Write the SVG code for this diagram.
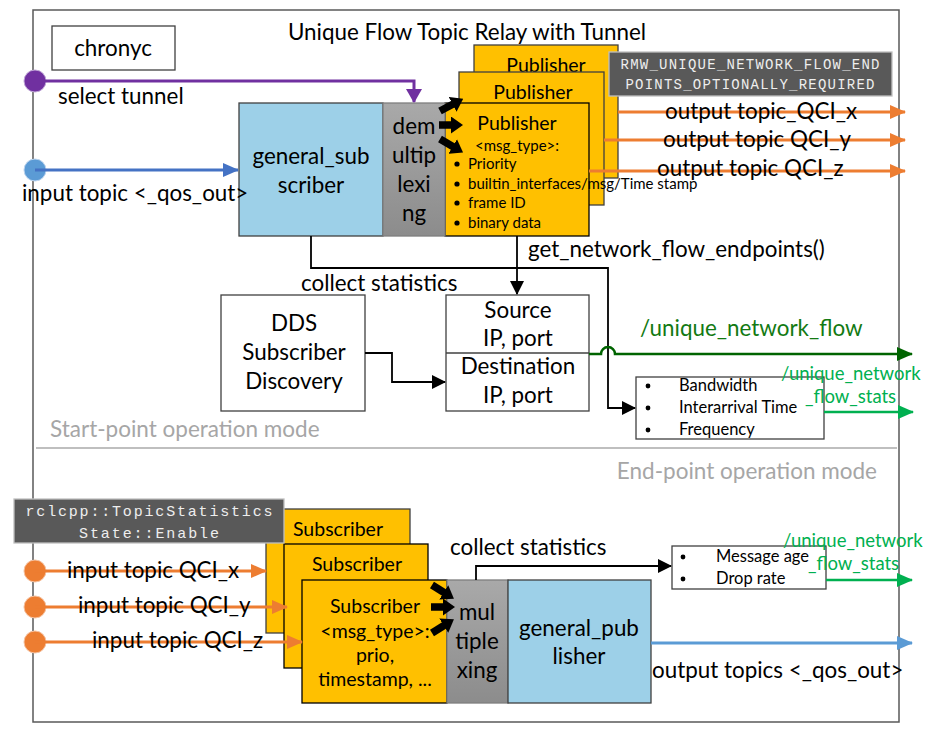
<svg xmlns="http://www.w3.org/2000/svg" width="949" height="734" viewBox="0 0 949 734">
<defs>
<style>
text{font-family:Lato,"Liberation Sans",sans-serif;fill:#000}
.t20{font-size:22.4px}
.t19{font-size:22.5px}
.t18{font-size:19.5px}
.tg{font-size:18.5px}
.t14{font-size:16.5px}
.t13{font-size:15px}
.mid{text-anchor:middle}
.mono{font-family:"Liberation Mono","DejaVu Sans Mono",monospace;fill:#eeeeee}
.box{fill:#fff;stroke:#404040;stroke-width:1.3}
.blue{fill:#9DD0E8;stroke:#404040;stroke-width:1.3}
.gold{fill:#FFC000;stroke:#404040;stroke-width:1.3}
.gold2{fill:#FFC000;stroke:#000;stroke-width:1.3}
.dark{fill:#595959;stroke:#bfbfbf;stroke-width:1.3}
.grey{fill:url(#gg);stroke:#7f7f7f;stroke-width:1.3}
.orange{stroke:#ED7D31;stroke-width:3;fill:none}
.blk{stroke:#000;stroke-width:1.8;fill:none}
.fat{stroke:#000;stroke-width:7.5;fill:none}
.gray-t{fill:#a6a6a6}
.dg{fill:#137A13}
.lg{fill:#00B050}
</style>
<linearGradient id="gg" x1="0" y1="0" x2="0" y2="1">
<stop offset="0" stop-color="#a9a9a9"/>
<stop offset="1" stop-color="#8c8c8c"/>
</linearGradient>
<marker id="aO" markerUnits="userSpaceOnUse" markerWidth="16" markerHeight="14" refX="15" refY="7" orient="auto"><path d="M0,0 L16,7 L0,14 Z" fill="#ED7D31"/></marker>
<marker id="aP" markerUnits="userSpaceOnUse" markerWidth="14" markerHeight="16" refX="13" refY="8" orient="auto"><path d="M0,0 L14,8 L0,16 Z" fill="#7030A0"/></marker>
<marker id="aB" markerUnits="userSpaceOnUse" markerWidth="16" markerHeight="14" refX="15" refY="7" orient="auto"><path d="M0,0 L16,7 L0,14 Z" fill="#4472C4"/></marker>
<marker id="aB2" markerUnits="userSpaceOnUse" markerWidth="16" markerHeight="14" refX="15" refY="7" orient="auto"><path d="M0,0 L16,7 L0,14 Z" fill="#5B9BD5"/></marker>
<marker id="aK" markerUnits="userSpaceOnUse" markerWidth="14" markerHeight="14" refX="13" refY="7" orient="auto"><path d="M0,0 L14,7 L0,14 Z" fill="#000"/></marker>
<marker id="aF" markerUnits="userSpaceOnUse" markerWidth="12" markerHeight="17" refX="5" refY="8.5" orient="auto"><path d="M0,0 L12,8.5 L0,17 Z" fill="#000"/></marker>
<marker id="aDG" markerUnits="userSpaceOnUse" markerWidth="16" markerHeight="14" refX="15" refY="7" orient="auto"><path d="M0,0 L16,7 L0,14 Z" fill="#006400"/></marker>
<marker id="aLG" markerUnits="userSpaceOnUse" markerWidth="16" markerHeight="14" refX="15" refY="7" orient="auto"><path d="M0,0 L16,7 L0,14 Z" fill="#00B050"/></marker>
</defs>

<rect x="33" y="10" width="866" height="712" fill="#fff" stroke="#595959" stroke-width="1.5"/>
<text class="t20 mid" x="467" y="40">Unique Flow Topic Relay with Tunnel</text>

<g id="chronyc"><rect class="box" x="52" y="26" width="123" height="44"/><text class="t20 mid" x="113" y="56">chronyc</text></g>

<g id="publishers">
<rect class="gold" x="474" y="45" width="144" height="133"/>
<text class="t18 mid" x="546" y="72">Publisher</text>
<rect class="gold" x="459" y="72" width="145" height="133"/>
<text class="t18 mid" x="533" y="99">Publisher</text>
<rect class="gold2" x="445" y="103" width="144" height="133"/>
<text class="t18 mid" x="517" y="130">Publisher</text>
<text class="t13 mid" x="517" y="151">&lt;msg_type&gt;:</text>
<g class="t13">
<circle cx="457" cy="164" r="2.6"/><text x="468" y="169">Priority</text>
<circle cx="457" cy="184" r="2.6"/><text x="468" y="189">builtin_interfaces/msg/Time stamp</text>
<circle cx="457" cy="203" r="2.6"/><text x="468" y="208">frame ID</text>
<circle cx="457" cy="223" r="2.6"/><text x="468" y="228">binary data</text>
</g>
</g>

<g id="rmw"><rect class="dark" x="609" y="52" width="283" height="44"/>
<text class="mono" font-size="14" x="750" y="69" text-anchor="middle" textLength="259" lengthAdjust="spacing">RMW_UNIQUE_NETWORK_FLOW_END</text>
<text class="mono" font-size="14" x="750" y="89" text-anchor="middle" textLength="249" lengthAdjust="spacing">POINTS_OPTIONALLY_REQUIRED</text></g>

<g id="general_subscriber"><rect class="blue" x="239" y="103" width="144" height="133"/>
<text class="t20 mid" x="311" y="164">general_sub</text><text class="t20 mid" x="311" y="193">scriber</text></g>

<g id="demultiplexing"><rect class="grey" x="383" y="103" width="62" height="133"/>
<text class="t20 mid" x="414" y="134">dem</text><text class="t20 mid" x="414" y="163">ultip</text><text class="t20 mid" x="414" y="192">lexi</text><text class="t20 mid" x="414" y="221">ng</text></g>

<g id="dds"><rect class="box" x="221" y="295" width="144" height="116"/>
<text class="t20 mid" x="294" y="331">DDS</text><text class="t20 mid" x="294" y="360">Subscriber</text><text class="t20 mid" x="294" y="389">Discovery</text></g>

<g id="endpoints"><rect class="box" x="446" y="295" width="143" height="116"/><line x1="446" y1="353" x2="589" y2="353" stroke="#404040" stroke-width="1.3"/>
<text class="t20 mid" x="518" y="318">Source</text><text class="t20 mid" x="518" y="346">IP, port</text><text class="t20 mid" x="518" y="374">Destination</text><text class="t20 mid" x="518" y="403">IP, port</text></g>

<g id="stats1"><rect class="box" x="636" y="377" width="188" height="62"/>
<g class="t14"><circle cx="648" cy="386" r="2.4"/><text x="679" y="391">Bandwidth</text>
<circle cx="648" cy="408" r="2.4"/><text x="679" y="413">Interarrival Time</text>
<circle cx="648" cy="430" r="2.4"/><text x="679" y="435">Frequency</text></g></g>

<text class="t19 gray-t" x="50" y="437">Start-point operation mode</text>
<line x1="36" y1="448" x2="897" y2="448" stroke="#bfbfbf" stroke-width="2"/>
<text class="t19 gray-t" x="877" y="479" text-anchor="end">End-point operation mode</text>

<g id="subscribers">
<rect class="gold" x="266" y="509" width="144" height="124"/>
<text class="t18 mid" x="338" y="536">Subscriber</text>
<rect class="gold2" x="284" y="544" width="144" height="124"/>
<text class="t18 mid" x="357" y="571">Subscriber</text>
<rect class="gold2" x="302" y="580" width="145" height="123"/>
<text class="t18 mid" x="375" y="613">Subscriber</text>
<text class="t18 mid" x="375" y="638">&lt;msg_type&gt;:</text>
<text class="t18 mid" x="375" y="662">prio,</text>
<text class="t18 mid" x="375" y="686">timestamp, ...</text>
</g>

<g id="rclcpp"><rect class="dark" x="14" y="499" width="270" height="44"/>
<text class="mono" font-size="15" x="149" y="516" text-anchor="middle" textLength="247" lengthAdjust="spacing">rclcpp::TopicStatistics</text>
<text class="mono" font-size="15" x="149" y="538" text-anchor="middle" textLength="140" lengthAdjust="spacing">State::Enable</text></g>

<g id="multiplexing"><rect class="grey" x="447" y="580" width="61" height="123"/>
<text class="t20 mid" x="477" y="620">mul</text><text class="t20 mid" x="477" y="649">tiple</text><text class="t20 mid" x="477" y="678">xing</text></g>

<g id="general_publisher"><rect class="blue" x="508" y="580" width="143" height="123"/>
<text class="t20 mid" x="579" y="636">general_pub</text><text class="t20 mid" x="579" y="664">lisher</text></g>

<g id="stats2"><rect class="box" x="672" y="546" width="154" height="43"/>
<g class="t14"><circle cx="683" cy="557" r="2.4"/><text x="716" y="562">Message age</text>
<circle cx="683" cy="579" r="2.4"/><text x="716" y="584">Drop rate</text></g></g>

<g id="connectors">
<circle cx="35" cy="81" r="11" fill="#7030A0" stroke="#bfa6d6" stroke-width="1"/>
<path d="M35,81 H414 V102" stroke="#7030A0" stroke-width="3" fill="none" marker-end="url(#aP)"/>
<circle cx="35" cy="170" r="11" fill="#5B9BD5" stroke="#bcd4ee" stroke-width="1"/>
<line x1="35" y1="170" x2="238" y2="170" stroke="#4472C4" stroke-width="3" marker-end="url(#aB)"/>

<line x1="440" y1="111" x2="457" y2="102" class="fat" marker-end="url(#aF)"/>
<line x1="439" y1="125" x2="456" y2="125" class="fat" marker-end="url(#aF)"/>
<line x1="440" y1="139" x2="457" y2="149" class="fat" marker-end="url(#aF)"/>

<line x1="618" y1="112" x2="905" y2="112" class="orange" marker-end="url(#aO)"/>
<line x1="604" y1="140" x2="905" y2="140" class="orange" marker-end="url(#aO)"/>
<line x1="589" y1="171" x2="905" y2="171" class="orange" marker-end="url(#aO)"/>

<path d="M311,236 V268 H608 V408 H635" class="blk" marker-end="url(#aK)"/>
<line x1="517" y1="236" x2="517" y2="294" class="blk" marker-end="url(#aK)"/>
<path d="M365,353 H392 V382 H445" class="blk" marker-end="url(#aK)"/>

<path d="M589,354 H601 A7,7 0 0 1 615,354 H912" stroke="#006400" stroke-width="2.5" fill="none" marker-end="url(#aDG)"/>
<line x1="824" y1="412" x2="913" y2="412" stroke="#00B050" stroke-width="2.5" marker-end="url(#aLG)"/>

<circle cx="35" cy="571" r="11" fill="#ED7D31" stroke="#f5c1a0" stroke-width="1"/>
<circle cx="35" cy="607" r="11" fill="#ED7D31" stroke="#f5c1a0" stroke-width="1"/>
<circle cx="35" cy="642" r="11" fill="#ED7D31" stroke="#f5c1a0" stroke-width="1"/>
<line x1="35" y1="571" x2="266" y2="571" class="orange" marker-end="url(#aO)"/>
<line x1="35" y1="607" x2="287" y2="607" class="orange" marker-end="url(#aO)"/>
<line x1="35" y1="642" x2="302" y2="642" class="orange" marker-end="url(#aO)"/>

<line x1="432" y1="585" x2="448" y2="595" class="fat" marker-end="url(#aF)"/>
<line x1="431" y1="607" x2="448" y2="607" class="fat" marker-end="url(#aF)"/>
<line x1="432" y1="633" x2="448" y2="623" class="fat" marker-end="url(#aF)"/>

<path d="M476,580 V566 H671" class="blk" marker-end="url(#aK)"/>
<line x1="826" y1="580" x2="912" y2="580" stroke="#00B050" stroke-width="2.5" marker-end="url(#aLG)"/>
<line x1="651" y1="643" x2="912" y2="643" stroke="#5B9BD5" stroke-width="3" marker-end="url(#aB2)"/>
</g>

<g id="labels">
<text class="t20" x="58" y="104">select tunnel</text>
<text class="t20" x="22" y="201">input topic &lt;_qos_out&gt;</text>
<text class="t20" x="665" y="119">output topic_QCI_x</text>
<text class="t20" x="663" y="147">output topic QCI_y</text>
<text class="t20" x="657" y="176">output topic QCI_z</text>
<text class="t20" x="528" y="257">get_network_flow_endpoints()</text>
<text class="t20" x="301" y="291">collect statistics</text>
<text class="t20 dg" x="640" y="336">/unique_network_flow</text>
<text class="tg lg" x="781" y="380">/unique_network</text>
<text class="tg lg" x="805" y="403">_flow_stats</text>
<text class="t20" x="67" y="578">input topic QCI_x</text>
<text class="t20" x="78" y="613">input topic QCI_y</text>
<text class="t20" x="92" y="648">input topic QCI_z</text>
<text class="t20" x="450" y="555">collect statistics</text>
<text class="tg lg" x="783" y="547">/unique_network</text>
<text class="tg lg" x="808" y="570">_flow_stats</text>
<text class="t20" x="652" y="678">output topics &lt;_qos_out&gt;</text>
</g>
</svg>
